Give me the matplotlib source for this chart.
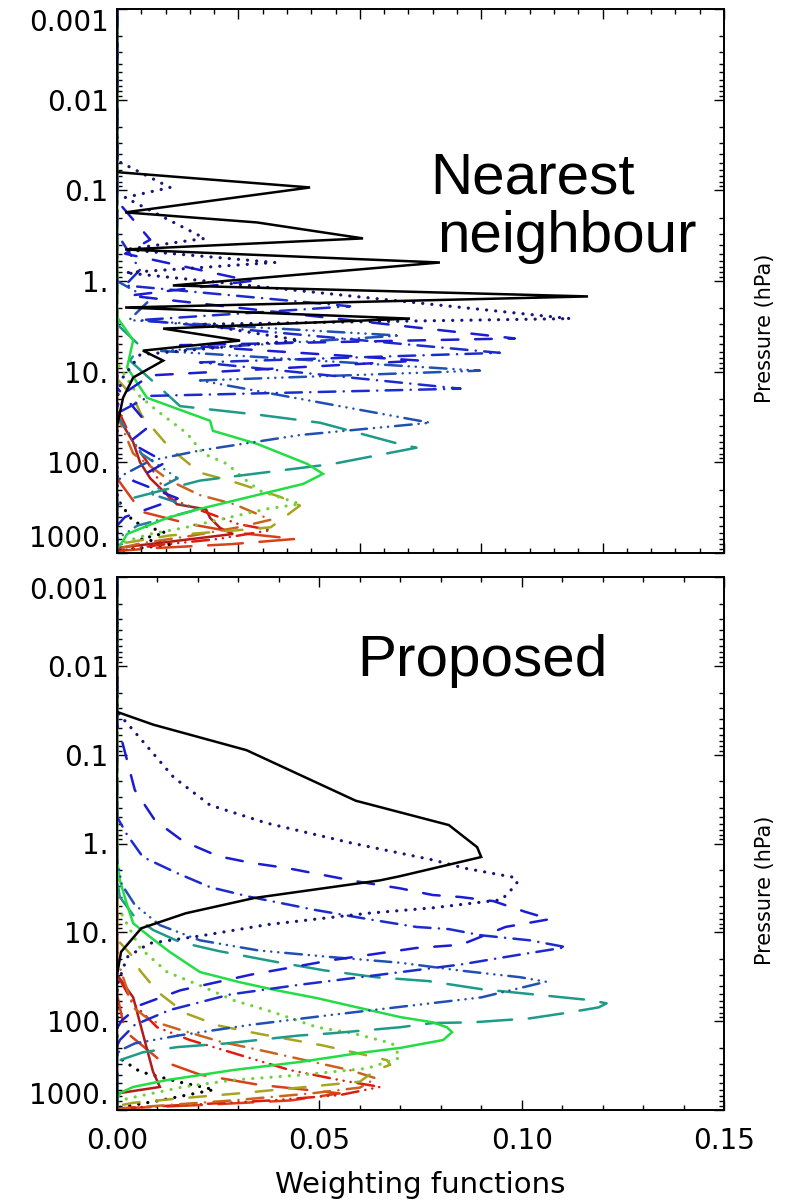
import matplotlib
matplotlib.use('Agg')
import matplotlib.pyplot as plt
from matplotlib.ticker import MultipleLocator, LogLocator, NullFormatter

plt.rcParams['lines.scale_dashes'] = False

# ---- line styles (IDL-like) ----
DOT = (0, (0.1, 6.5))
DASH = (0, (12, 12))
DASHDOT = (0, (12, 6, 0.1, 6))
DASHDOTDOT = (0, (12, 5, 0.1, 5, 0.1, 5, 0.1, 5))
LONGDASH = (0, (25, 12))

styles = {
    'black': ('#000000', '-'),
    'navy': ('#16167a', DOT),
    'blue_dash': ('#1c1cd2', DASH),
    'blue_dashdot': ('#1c2ccc', DASHDOT),
    'blue_dd': ('#2050b4', DASHDOTDOT),
    'teal': ('#1f9a88', LONGDASH),
    'green': ('#22dd44', '-'),
    'lgreen': ('#6fd23a', DOT),
    'olive': ('#a5a520', DASH),
    'orange': ('#c8641e', DASHDOT),
    'red': ('#e01c10', DASHDOTDOT),
    'dred': ('#b51a1a', '-'),
    'rlong': ('#d8401a', LONGDASH),
    'kdot': ('#000000', DOT),
    'blue_small': ('#1c1cd2', DASH),
    'teal_small': ('#2080a0', DASHDOTDOT),
}

# ---- Nearest neighbour panel (weight, pressure hPa) ----
nn_black_w = [0, 0, 0.0477, 0.002, 0.0346, 0.0608, 0.002, 0.0798, 0.0138, 0.1164, 0.002, 0.0724,
              0.0114, 0.0304, 0.0064, 0.0114, 0.004, 0.0015, 0, 0]
nn_black_p = [0.001, 0.063, 0.093, 0.175, 0.226, 0.339, 0.449, 0.625, 1.12, 1.48, 1.96, 2.6,
              3.35, 4.54, 5.86, 7.55, 11.6, 19.4, 40, 1000]
nn_navy_w = [0, 0, 0.0131, 0.002, 0.0217, 0.002, 0.039, 0.002, 0.112, 0.0205, 0.045, 0.0057, 0.0012, 0, 0]
nn_navy_p = [0.001, 0.047, 0.093, 0.12, 0.339, 0.45, 0.625, 0.81, 2.6, 3.0, 4.5, 6.5, 12, 20, 1000]
nn_bdash_w = [0, 0, 0.0082, 0.002, 0.033, 0.003, 0.0983, 0.0156, 0.0749, 0.0082, 0.0012, 0, 0]
nn_bdash_p = [0.001, 0.13, 0.35, 0.5, 1.0, 1.45, 4.3, 5.1, 7.55, 11, 18, 25, 1000]
nn_bdd_w = [0, 0, 0.0057, 0.002, 0.0576, 0.0057, 0.0946, 0.0205, 0.0849, 0.0082, 0.0012, 0, 0]
nn_bdd_p = [0.001, 0.3, 0.75, 1.12, 1.9, 2.7, 6.2, 7.9, 15.4, 18.5, 27, 35, 1000]
nn_bdashdot_w = [0, 0, 0.0082, 0.003, 0.0699, 0.0106, 0.0897, 0.0205, 0.0774, 0.0452, 0.0205, 0.0082,
                 0.0012, 0, 0]
nn_bdashdot_p = [0.001, 1.0, 1.6, 2.7, 4.0, 5.9, 9.75, 12.5, 36.6, 50, 74, 96, 140, 170, 1000]
nn_teal_w = [0, 0, 0.0057, 0.0032, 0.0156, 0.0353, 0.0502, 0.0699, 0.074, 0.0534, 0.0205, 0.0012, 0, 0]
nn_teal_p = [0.001, 3, 5.2, 7.55, 24, 30, 36.6, 63, 69, 104, 159, 266, 300, 1000]
nn_green_w = [0, 0, 0.004, 0.0025, 0.0074, 0.023, 0.0237, 0.0346, 0.047, 0.0509, 0.046, 0.0287,
              0.0205, 0.0124, 0.0025, 0.0015, 0, 0]
nn_green_p = [0.001, 2.5, 4.5, 9.0, 19.4, 34.8, 44.9, 62.5, 104, 134, 173, 266, 326, 410, 617, 737, 900, 1000]
nn_lgreen_w = [0, 0, 0.0049, 0.0099, 0.0173, 0.0213, 0.0272, 0.0311, 0.0353, 0.0452, 0.0371, 0.0272,
               0.0163, 0.0082, 0.0025, 0, 0]
nn_lgreen_p = [0.001, 8, 17.5, 27, 48, 80, 104, 148, 206, 288, 326, 410, 530, 617, 737, 850, 1000]
nn_olive_w = [0, 0, 0.004, 0.006, 0.0131, 0.0205, 0.029, 0.0403, 0.0452, 0.038, 0.030, 0.0131, 0, 0]
nn_olive_p = [0.001, 12, 19, 30, 70, 130, 165, 240, 300, 520, 560, 640, 800, 1000]
nn_orange_w = [0, 0, 0.004, 0.0131, 0.0205, 0.029, 0.038, 0.030, 0.018, 0.006, 0, 0]
nn_orange_p = [0.001, 30, 80, 160, 230, 290, 430, 520, 650, 780, 900, 1000]
nn_red_w = [0, 0, 0.004, 0.0082, 0.013, 0.020, 0.030, 0.038, 0.025, 0.010, 0, 0]
nn_red_p = [0.001, 25, 60, 110, 250, 330, 480, 560, 700, 820, 950, 1000]
nn_dred_w = [0, 0, 0.004, 0.0057, 0.0082, 0.0148, 0.022, 0.023, 0.0255, 0.0287, 0.012, 0, 0]
nn_dred_p = [0.001, 30, 60, 100, 150, 290, 330, 410, 530, 617, 760, 880, 1000]
nn_rlong_w = [0, 0, 0.006, 0.018, 0.030, 0.044, 0.028, 0.010, 0, 0]
nn_rlong_p = [0.001, 150, 350, 480, 600, 700, 800, 880, 950, 1000]
nn_kdot_w = [0, 0, 0.004, 0.012, 0.006, 0.014, 0.004, 0, 0]
nn_kdot_p = [0.001, 250, 450, 600, 700, 800, 900, 960, 1000]
nn_bsmall_w = [0, 0, 0.008, 0.003, 0.012, 0.004, 0.015, 0.002, 0, 0]
nn_bsmall_p = [0.001, 15, 40, 60, 100, 160, 250, 400, 500, 1000]
nn_tsmall_w = [0, 0, 0.006, 0.015, 0.008, 0.020, 0.005, 0, 0]
nn_tsmall_p = [0.001, 30, 80, 150, 220, 330, 500, 700, 1000]

# ---- Proposed panel ----
pr_black_w = [0, 0, 0.009, 0.032, 0.059, 0.082, 0.089, 0.090, 0.070, 0.065, 0.034, 0.017, 0.006, 0.001, 0, 0]
pr_black_p = [0.001, 0.033, 0.046, 0.089, 0.33, 0.62, 1.1, 1.42, 2.33, 2.6, 4.1, 6.1, 9.0, 16.6, 30, 1000]
pr_navy_w = [0, 0, 0.004, 0.014, 0.023, 0.037, 0.058, 0.078, 0.086, 0.098, 0.099, 0.097, 0.095, 0.078,
             0.062, 0.037, 0.021, 0.008, 0.0025, 0, 0]
pr_navy_p = [0.001, 0.033, 0.053, 0.18, 0.37, 0.59, 0.99, 1.53, 1.9, 2.4, 2.7, 3.5, 4.3, 5.3,
             6.1, 8.2, 10.9, 13.3, 19, 40, 1000]
pr_bdash_w = [0, 0, 0.0012, 0.0044, 0.0094, 0.0163, 0.025, 0.0334, 0.042, 0.0588, 0.070, 0.078, 0.0848,
              0.093, 0.101, 0.107, 0.096, 0.085, 0.074, 0.053, 0.033, 0.0156, 0.0057, 0.0012, 0, 0]
pr_bdash_p = [0.001, 0.045, 0.069, 0.25, 0.55, 0.94, 1.39, 1.66, 1.89, 2.65, 3.2, 3.8, 4.0,
              4.45, 5.9, 7.1, 8.7, 13.8, 15, 20.6, 30, 45, 66, 98, 120, 1000]
pr_bdashdot_w = [0, 0, 0.0025, 0.0064, 0.0148, 0.023, 0.033, 0.049, 0.062, 0.074, 0.082, 0.090, 0.102,
                 0.111, 0.0996, 0.085, 0.065, 0.045, 0.028, 0.013, 0.0044, 0.0007, 0, 0]
pr_bdashdot_p = [0.001, 0.5, 0.80, 1.42, 2.15, 3.1, 4.0, 5.6, 7.1, 8.7, 9.2, 10.8, 12.3,
                 14.7, 17.8, 23, 30, 39, 50, 75, 110, 163, 190, 1000]
pr_bdd_w = [0, 0, 0.0012, 0.0044, 0.0106, 0.0205, 0.035, 0.053, 0.070, 0.085, 0.0996, 0.106, 0.090,
            0.070, 0.053, 0.033, 0.0156, 0.0044, 0.0007, 0, 0]
pr_bdd_p = [0.001, 1.5, 2.9, 4.9, 8.3, 12.3, 16, 19, 22, 27, 32, 36, 54,
            69, 85, 110, 144, 178, 214, 240, 1000]
pr_teal_w = [0, 0, 0.0007, 0.004, 0.0089, 0.0156, 0.025, 0.038, 0.051, 0.064, 0.077, 0.090, 0.103, 0.117,
             0.121, 0.119, 0.110, 0.102, 0.088, 0.078, 0.070, 0.053, 0.045, 0.027, 0.0148, 0.0064,
             0.0007, 0, 0]
pr_teal_p = [0.001, 2.5, 4.0, 6.4, 9.4, 12.9, 16.2, 21, 26.7, 32, 35.4, 43.6, 50, 58,
             63, 70, 82, 93, 103, 105, 117, 137, 145, 178, 196, 224, 275, 300, 1000]
pr_green_w = [0, 0, 0.0007, 0.0025, 0.004, 0.0082, 0.0131, 0.0205, 0.0304, 0.0395, 0.0494, 0.060, 0.070,
              0.078, 0.0815, 0.0828, 0.0806, 0.070, 0.060, 0.0452, 0.0287, 0.0124, 0.004, 0.0007, 0, 0]
pr_green_p = [0.001, 1.5, 2.6, 4.9, 7.9, 11.3, 16.7, 28, 36.5, 45, 55, 71, 90,
              103, 117, 133, 163, 200, 228, 288, 355, 460, 550, 645, 780, 1000]
pr_lgreen_w = [0, 0, 0.0057, 0.0124, 0.0213, 0.0287, 0.0385, 0.0494, 0.0583, 0.068, 0.070, 0.0618,
               0.045, 0.0287, 0.0163, 0.004, 0.0007, 0, 0]
pr_lgreen_p = [0.001, 5, 15, 28, 41, 58, 79, 117, 137, 178, 257, 340,
               405, 460, 550, 720, 780, 850, 1000]
pr_olive_w = [0, 0, 0.004, 0.0057, 0.0101, 0.0168, 0.025, 0.0348, 0.0507, 0.0596, 0.0667, 0.0675, 0.064,
              0.060, 0.045, 0.030, 0.0156, 0.004, 0, 0]
pr_olive_p = [0.001, 12, 19, 27, 47, 81, 112, 138, 187, 230, 275, 310, 355,
              480, 560, 650, 740, 830, 900, 1000]
pr_orange_w = [0, 0, 0.004, 0.0082, 0.0156, 0.0255, 0.037, 0.0465, 0.0575, 0.064, 0.060, 0.048, 0.0287,
               0.0124, 0.003, 0, 0]
pr_orange_p = [0.001, 20, 70, 98, 125, 170, 220, 275, 355, 440, 560, 650, 780,
               880, 950, 980, 1000]
pr_red_w = [0, 0, 0.004, 0.0099, 0.018, 0.0287, 0.0427, 0.055, 0.065, 0.055, 0.038, 0.0205, 0.0057, 0, 0]
pr_red_p = [0.001, 30, 63, 117, 163, 228, 355, 460, 550, 680, 780, 860, 930, 960, 1000]
pr_dred_w = [0, 0, 0.004, 0.0089, 0.0106, 0.0007, 0, 0]
pr_dred_p = [0.001, 30, 54, 370, 550, 645, 700, 1000]
pr_rlong_w = [0, 0, 0.002, 0.0106, 0.0205, 0.035, 0.048, 0.055, 0.043, 0.0205, 0.003, 0]
pr_rlong_p = [0.001, 50, 130, 275, 400, 520, 600, 650, 780, 880, 950, 1000]
pr_kdot_w = [0, 0, 0.0057, 0.015, 0.024, 0.0106, 0, 0]
pr_kdot_p = [0.001, 250, 370, 480, 590, 780, 950, 1000]

nn_curves = [
    ('kdot', nn_kdot_w, nn_kdot_p), ('rlong', nn_rlong_w, nn_rlong_p), ('dred', nn_dred_w, nn_dred_p),
    ('red', nn_red_w, nn_red_p), ('orange', nn_orange_w, nn_orange_p), ('olive', nn_olive_w, nn_olive_p),
    ('lgreen', nn_lgreen_w, nn_lgreen_p), ('teal_small', nn_tsmall_w, nn_tsmall_p),
    ('blue_small', nn_bsmall_w, nn_bsmall_p), ('teal', nn_teal_w, nn_teal_p),
    ('green', nn_green_w, nn_green_p),
    ('blue_dd', nn_bdashdot_w, nn_bdashdot_p), ('blue_dashdot', nn_bdd_w, nn_bdd_p),
    ('blue_dash', nn_bdash_w, nn_bdash_p), ('navy', nn_navy_w, nn_navy_p), ('black', nn_black_w, nn_black_p),
]
pr_curves = [
    ('kdot', pr_kdot_w, pr_kdot_p), ('rlong', pr_rlong_w, pr_rlong_p), ('dred', pr_dred_w, pr_dred_p),
    ('red', pr_red_w, pr_red_p), ('orange', pr_orange_w, pr_orange_p), ('olive', pr_olive_w, pr_olive_p),
    ('lgreen', pr_lgreen_w, pr_lgreen_p), ('teal', pr_teal_w, pr_teal_p), ('green', pr_green_w, pr_green_p),
    ('blue_dd', pr_bdd_w, pr_bdd_p), ('blue_dashdot', pr_bdashdot_w, pr_bdashdot_p),
    ('blue_dash', pr_bdash_w, pr_bdash_p), ('navy', pr_navy_w, pr_navy_p), ('black', pr_black_w, pr_black_p),
]

ytick_vals = [0.001, 0.01, 0.1, 1, 10, 100, 1000]
ytick_labels = ['0.001', '0.01', '0.1', '1.', '10.', '100.', '1000.']
xtick_vals = [0.0, 0.05, 0.10, 0.15]
xtick_labels = ['0.00', '0.05', '0.10', '0.15']

W, H = 796, 1204
fig = plt.figure(figsize=(W / 100, H / 100), dpi=100)


def px_axes(left, top, right, bottom):
    return fig.add_axes([left / W, 1 - bottom / H, (right - left) / W, (bottom - top) / H])


def draw_panel(ax, curves, xmajor, xminor, xlabels):
    for name, w, p in curves:
        color, ls = styles[name]
        lw = 2.3 if ls is DOT else 1.8
        ax.plot(w, p, color=color, linestyle=ls, lw=lw,
                dash_capstyle='round', solid_joinstyle='miter')
    ax.set_yscale('log')
    ax.set_ylim(1000, 0.001)
    ax.set_xlim(0, 0.15)
    ax.xaxis.set_major_locator(MultipleLocator(xmajor))
    ax.xaxis.set_minor_locator(MultipleLocator(xminor))
    ax.yaxis.set_major_locator(LogLocator(base=10, numticks=10))
    ax.yaxis.set_minor_locator(LogLocator(base=10, subs=range(2, 10), numticks=20))
    ax.yaxis.set_minor_formatter(NullFormatter())
    ax.set_yticks(ytick_vals, ytick_labels)
    for lab in ax.get_yticklabels():
        if lab.get_text() == '0.001':
            lab.set_va('top')
        elif lab.get_text() == '1000.':
            lab.set_va('bottom')
    if xlabels:
        ax.set_xticks(xtick_vals, xtick_labels)
    else:
        ax.tick_params(axis='x', which='both', labelbottom=False)
    ax.tick_params(which='both', direction='in', top=True, right=True, width=1.0, labelsize=20)
    ax.tick_params(which='major', length=7.5)
    ax.tick_params(which='minor', length=3.8)
    ax.tick_params(axis='y', pad=6)
    ax.tick_params(axis='x', pad=12)
    for s in ax.spines.values():
        s.set_linewidth(1.4)


ax1 = px_axes(117, 9, 724, 553)
draw_panel(ax1, nn_curves, 0.03, 0.006, False)
ax2 = px_axes(117, 577, 724, 1110)
draw_panel(ax2, pr_curves, 0.05, 0.01, True)

big = dict(family='Liberation Sans', fontsize=42, va='baseline', ha='left')
fig.text(430 / W, 1 - 193 / H, 'Nearest', **big)
fig.text(437 / W, 1 - 252 / H, 'neighbour', **big)
fig.text(357 / W, 1 - 676 / H, 'Proposed', **big)

fig.text(765 / W, 1 - 328 / H, 'Pressure (hPa)', rotation=90, ha='center', va='center', fontsize=15)
fig.text(765 / W, 1 - 890 / H, 'Pressure (hPa)', rotation=90, ha='center', va='center', fontsize=15)
fig.text(420 / W, 1 - 1185 / H, 'Weighting functions', ha='center', va='center', fontsize=21)

fig.savefig('out.png', dpi=100)
